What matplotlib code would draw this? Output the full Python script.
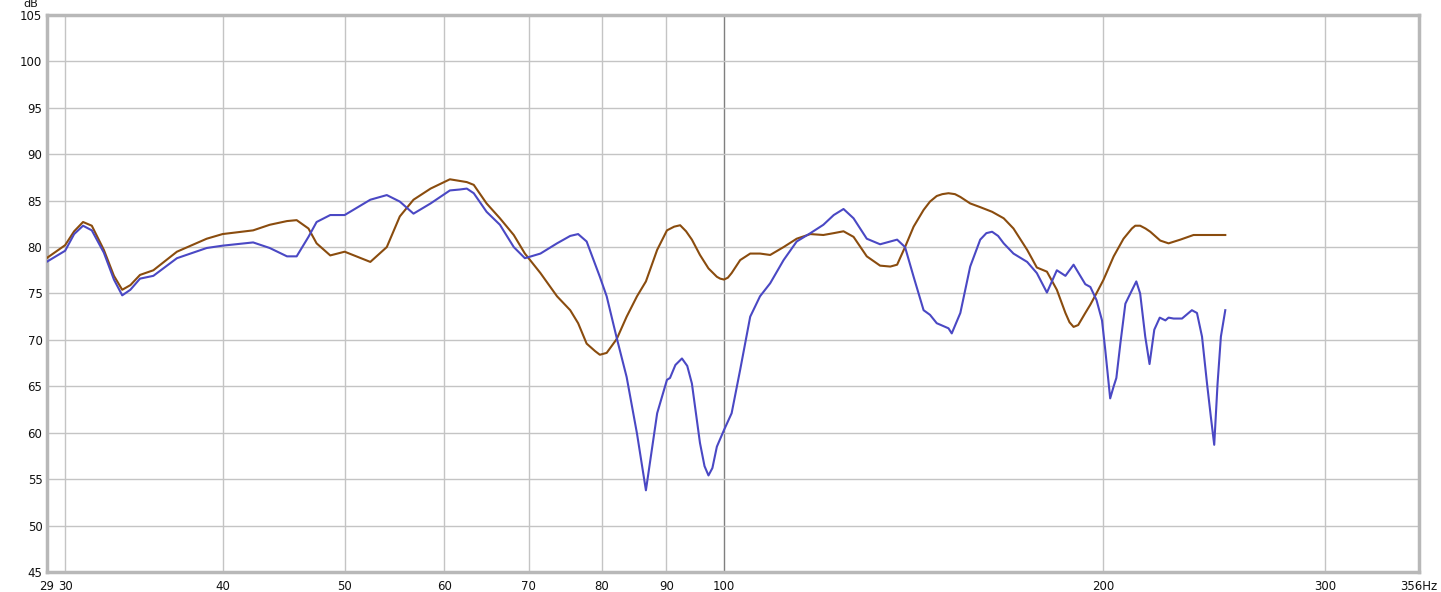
import numpy as np
import matplotlib
matplotlib.use("Agg")
import matplotlib.pyplot as plt

# Blue trace (frequency Hz, level dB)
blue_freq = [29.0, 30.0, 30.5, 31.0, 31.5, 32.2, 32.8, 33.3, 33.8, 34.4, 35.25, 36.8, 38.86, 40.0,
             42.3, 43.6, 45.0, 45.8, 46.8, 47.5, 48.7, 50.0, 52.4, 54.0, 55.3, 56.7, 58.5, 60.6,
             61.7, 62.5, 63.3, 64.8, 66.4, 68.1, 69.5, 71.5, 73.7, 75.5, 76.6, 77.8, 79.7, 80.7,
             82.2, 83.7, 85.3, 86.7, 88.5, 90.1, 90.6, 91.5, 92.6, 93.5, 94.3, 95.7, 96.5, 97.2,
             97.9, 98.7, 100.0, 101.4, 103.0, 104.9, 106.8, 108.8, 111.5, 114.2, 117.1, 119.9,
             122.2, 124.4, 126.7, 129.8, 133.0, 135.5, 137.2, 139.2, 141.4, 144.0, 145.7, 147.5,
             150.7, 151.6, 154.0, 156.8, 159.7, 161.5, 163.2, 165.0, 166.7, 169.7, 174.0, 177.1,
             180.4, 183.7, 186.6, 189.4, 193.5, 195.3, 197.5, 199.5, 200.7, 202.5, 203.8, 204.8,
             206.3, 208.2, 210.1, 212.4, 213.9, 215.9, 217.6, 219.5, 221.7, 224.0, 225.3, 227.4,
             230.9, 235.1, 237.3, 239.5, 241.7, 243.4, 244.9, 246.4, 247.9, 249.9]
blue_db = [78.4, 79.6, 81.4, 82.3, 81.8, 79.4, 76.5, 74.8, 75.4, 76.6, 76.9, 78.8, 79.9, 80.15,
           80.5, 79.9, 79.0, 79.0, 81.1, 82.7, 83.45, 83.45, 85.1, 85.6, 84.9, 83.6, 84.7, 86.1,
           86.2, 86.3, 85.8, 83.8, 82.4, 80.0, 78.8, 79.3, 80.4, 81.2, 81.4, 80.6, 76.8, 74.7,
           70.2, 66.0, 59.9, 53.8, 62.1, 65.7, 65.9, 67.3, 68.0, 67.2, 65.3, 58.9, 56.4, 55.4,
           56.2, 58.5, 60.3, 62.1, 66.8, 72.5, 74.7, 76.1, 78.6, 80.6, 81.5, 82.4,
           83.45, 84.1, 83.1, 80.9, 80.3, 80.6, 80.8, 80.0, 76.8, 73.2, 72.7, 71.8,
           71.25, 70.7, 72.9, 77.9, 80.8, 81.5, 81.65, 81.2, 80.4, 79.3, 78.4, 77.2,
           75.1, 77.5, 76.9, 78.1, 76.0, 75.7, 74.3, 72.1, 68.9, 63.7, 65.0, 65.9,
           69.6, 73.9, 75.0, 76.3, 75.0, 70.35, 67.4, 71.1, 72.4, 72.1, 72.4, 72.3,
           72.3, 73.2, 72.9, 70.35, 65.3, 61.7, 58.7, 65.3, 70.35, 73.2]

# Brown trace
brown_freq = [29.0, 30.0, 30.5, 31.0, 31.5, 32.2, 32.8, 33.3, 33.8, 34.4, 35.25, 36.8, 38.86, 40.0,
              42.3, 43.6, 45.0, 45.8, 46.8, 47.5, 48.7, 50.0, 52.4, 54.0, 55.3, 56.7, 58.5, 60.6,
              62.5, 63.3, 64.8, 66.4, 68.1, 69.5, 71.5, 73.7, 75.5, 76.6, 77.8, 79.0, 79.7, 80.7,
              82.2, 83.7, 85.3, 86.7, 88.5, 90.1, 91.3, 92.3, 93.3, 94.3, 95.7, 97.2, 98.7, 99.3,
              100.0, 100.7, 101.4, 103.0, 104.9, 106.8, 108.8, 111.5, 114.2, 117.1, 119.9, 122.2,
              124.4, 126.7, 129.8, 133.0, 135.5, 137.2, 139.2, 141.4, 144.0, 145.7, 147.5, 149.0,
              150.7, 152.5, 154.0, 156.8, 159.7, 163.2, 166.7, 169.7, 174.0, 177.1, 180.4, 183.7,
              186.6, 188.0, 189.4, 191.0, 193.5, 195.3, 197.1, 200.0, 203.8, 207.5, 210.7, 212.0,
              213.9, 216.0, 217.9, 221.9, 225.3, 230.2, 235.8, 243.1, 249.9]
brown_db = [78.8, 80.2, 81.7, 82.7, 82.3, 79.7, 76.9, 75.4, 75.9, 77.0, 77.5, 79.5, 80.9, 81.4,
            81.8, 82.4, 82.8, 82.9, 82.0, 80.4, 79.1, 79.5, 78.4, 80.0, 83.3, 85.1, 86.3, 87.3,
            87.0, 86.7, 84.7, 83.1, 81.3, 79.3, 77.2, 74.7, 73.2, 71.8, 69.6, 68.8, 68.4, 68.6,
            70.1, 72.5, 74.7, 76.3, 79.7, 81.8, 82.2, 82.35, 81.7, 80.8, 79.15, 77.7, 76.8, 76.6,
            76.5, 76.7, 77.2, 78.6, 79.3, 79.3, 79.15, 80.0, 80.9, 81.4, 81.3, 81.5,
            81.7, 81.1, 79.0, 78.0, 77.9, 78.1, 80.0, 82.2, 84.0, 84.9, 85.5, 85.7,
            85.8, 85.7, 85.4, 84.7, 84.3, 83.8, 83.1, 82.0, 79.7, 77.8, 77.35, 75.4,
            72.9, 71.9, 71.4, 71.6, 72.9, 73.8, 74.8, 76.45, 79.0, 80.9, 82.0, 82.3,
            82.3, 82.0, 81.65, 80.7, 80.4, 80.8, 81.3, 81.3, 81.3]

x_ticks = [29, 30, 40, 50, 60, 70, 80, 90, 100, 200, 300, 356]
x_labels = ["29", "30", "40", "50", "60", "70", "80", "90", "100", "200", "300", "356Hz"]
x_grid = [30, 40, 50, 60, 70, 80, 90, 200, 300]
y_ticks = list(range(45, 106, 5))

fig = plt.figure(figsize=(14.41, 5.92), dpi=100)
ax = fig.add_axes([0.0323, 0.0338, 0.9524, 0.9409])

ax.set_xscale("log")
ax.set_xlim(29, 356)
ax.set_ylim(45, 105)

# grid
for f in x_grid:
    ax.axvline(f, color="#c4c4c4", lw=1.0, zorder=1)
ax.axvline(100, color="#7f7f7f", lw=1.0, zorder=1)
for v in y_ticks:
    ax.axhline(v, color="#c4c4c4", lw=1.0, zorder=1)

ax.plot(brown_freq, brown_db, color="#8a4c0e", lw=1.5, zorder=3, solid_joinstyle="round")
ax.plot(blue_freq, blue_db, color="#4a48c4", lw=1.5, zorder=4, solid_joinstyle="round")

ax.set_xticks(x_ticks)
ax.set_xticklabels(x_labels)
ax.xaxis.set_minor_locator(matplotlib.ticker.NullLocator())
ax.set_yticks(y_ticks)
ax.tick_params(length=0, labelsize=8.5, colors="#111111", pad=3)
ax.tick_params(axis="x", pad=6)

for s in ax.spines.values():
    s.set_color("#b8b8b8")
    s.set_linewidth(2.5)

ax.text(-0.006, 1.0105, "dB", transform=ax.transAxes, ha="right", va="bottom", fontsize=8,
        color="#111111")

fig.savefig("out.png", dpi=100)
